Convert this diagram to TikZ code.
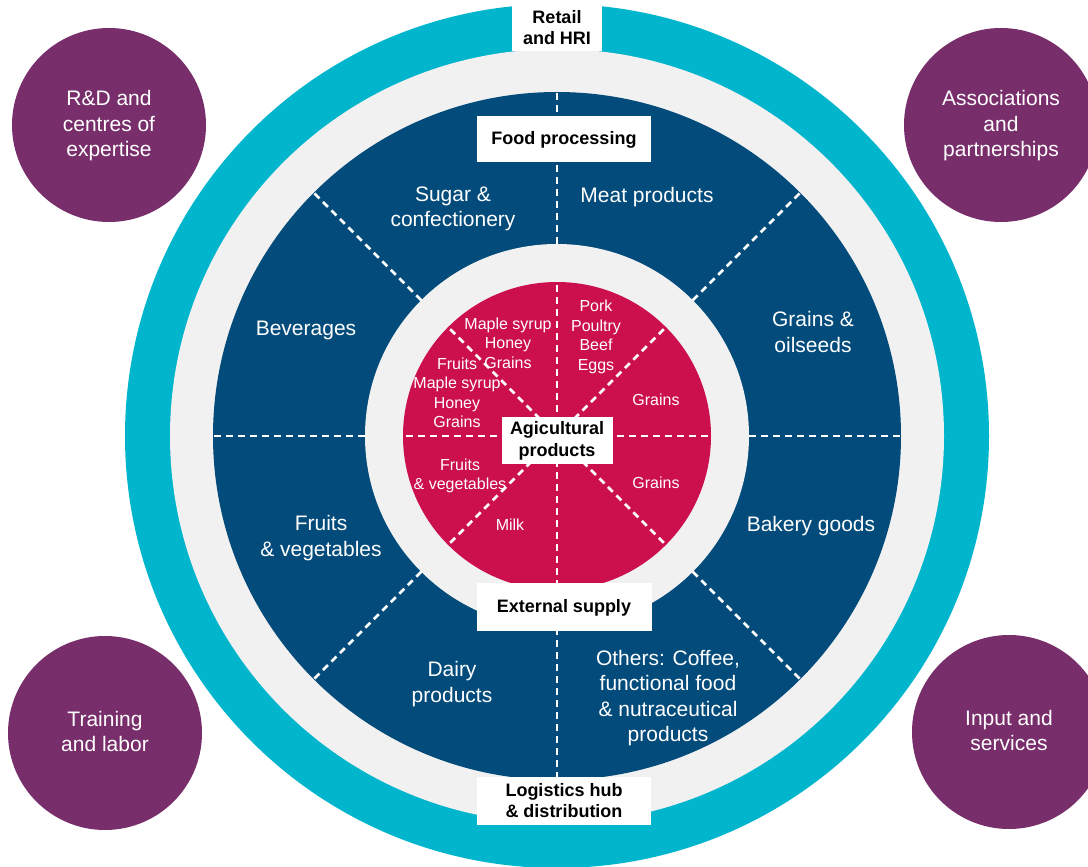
\documentclass[tikz,border=0pt]{standalone}
\usepackage{fontspec}
\setmainfont{Liberation Sans}
\definecolor{ringteal}{HTML}{00B5CC}
\definecolor{ringgray}{HTML}{F1F1F1}
\definecolor{procblue}{HTML}{024B7A}
\definecolor{agrired}{HTML}{CC104D}
\definecolor{suppurple}{HTML}{782E6B}
\tikzset{
  support/.style={circle,fill=suppurple,minimum size=194pt,inner sep=0pt,
    text=white,align=center,text depth=3pt,font=\fontsize{21}{25.5}\selectfont},
  sector/.style={text=white,align=center,yshift=-3pt,font=\fontsize{21}{25.5}\selectfont},
  produce/.style={text=white,align=center,inner sep=0pt,yshift=-2pt,font=\fontsize{16}{19.5}\selectfont},
  tag/.style={fill=white,align=center,inner sep=0pt,text depth=2pt,font=\bfseries\fontsize{18}{21}\selectfont},
  dashline/.style={white,line width=2.8pt,dash pattern=on 7pt off 5pt}
}

\begin{document}
\begin{tikzpicture}[x=1pt,y=-1pt]
  \useasboundingbox (0,0) rectangle (1088,867);
  \coordinate (ctr) at (557,436);

  % rings
  \fill[ringteal] (ctr) circle[radius=432pt];
  \fill[ringgray] (ctr) circle[radius=387pt];
  \fill[procblue] (ctr) circle[radius=344pt];
  \fill[ringgray] (ctr) circle[radius=192pt];
  \fill[agrired]  (ctr) circle[radius=154pt];

  % sector borders
  \foreach \a in {0,45,...,315}{
    \draw[dashline] ([shift={(\a:192pt)}]ctr) -- ([shift={(\a:344pt)}]ctr);
    \draw[dashline] (ctr) -- ([shift={(\a:154pt)}]ctr);
  }

  % support circles
  \node[support] (rnd)   at (109,125)  {R\&D and\\centres of\\expertise};
  \node[support] (assoc) at (1001,125) {Associations\\and\\partnerships};
  \node[support] (train) at (105,733)  {Training\\and labor};
  \node[support] (input) at (1009,732) {Input and\\services};

  % food processing sectors
  \node[sector] (sugar)  at (453,206) {Sugar \&\\confectionery};
  \node[sector] (meat)   at (647,194) {Meat products};
  \node[sector] (bev)    at (306,327) {Beverages};
  \node[sector] (grain)  at (813,329) {Grains \&\\oilseeds};
  \node[sector] (fruit)  at (321,535) {Fruits\\\& vegetables};
  \node[sector] (bakery) at (811,523) {Bakery goods};
  \node[sector] (dairy)  at (452,681) {Dairy\\products};
  \node[sector] (others) at (668,695) {Others: Coffee,\\functional food\\\& nutraceutical\\products};

  % agricultural products
  \node[produce] (syrupa) at (508,341) {Maple syrup\\Honey\\Grains};
  \node[produce] (syrupb) at (457,391) {Fruits\\Maple syrup\\Honey\\Grains};
  \node[produce] (pork)   at (596,335) {Pork\\Poultry\\Beef\\Eggs};
  \node[produce] (graina) at (656,398) {Grains};
  \node[produce] (grainb) at (656,481) {Grains};
  \node[produce] (fruitb) at (460,474) {Fruits\\\& vegetables};
  \node[produce] (milk)   at (510,523) {Milk};

  % labels
  \node[tag,minimum width=90pt,minimum height=47pt]  (retail) at (557,28)  {Retail\\and HRI};
  \node[tag,minimum width=174pt,minimum height=46pt] (proc)   at (564,139) {Food processing};
  \node[tag,minimum width=111pt,minimum height=47pt,font=\bfseries\fontsize{18}{22}\selectfont]
    (agri) at (557,440) {Agicultural\\products};
  \node[tag,minimum width=175pt,minimum height=48pt] (ext)    at (564,607) {External supply};
  \node[tag,minimum width=174pt,minimum height=48pt] (logi)   at (564,801) {Logistics hub\\\& distribution};
\end{tikzpicture}
\end{document}
